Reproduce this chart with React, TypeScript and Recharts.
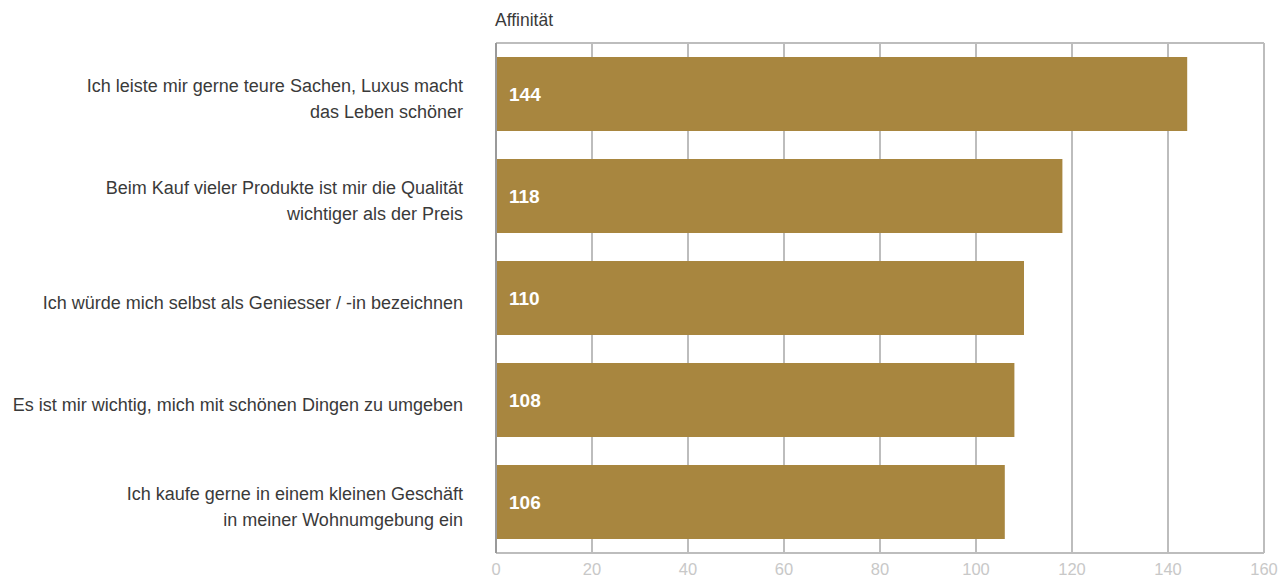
import React from 'react'
import { BarChart, Bar, XAxis, YAxis, CartesianGrid, LabelList } from 'recharts'

// statements (line breaks as in the source chart)
const statements = [
  'Ich leiste mir gerne teure Sachen, Luxus macht\ndas Leben schöner',
  'Beim Kauf vieler Produkte ist mir die Qualität\nwichtiger als der Preis',
  'Ich würde mich selbst als Geniesser / -in bezeichnen',
  'Es ist mir wichtig, mich mit schönen Dingen zu umgeben',
  'Ich kaufe gerne in einem kleinen Geschäft\nin meiner Wohnumgebung ein',
]
const affinity = [144, 118, 110, 108, 106]
const xTicks = [0, 20, 40, 60, 80, 100, 120, 140, 160]
const axisTitle = 'Affinität'

const FONT = '"Liberation Sans", Arial, sans-serif'
const GOLD = '#a8863f'

const chartData = statements.map((s, i) => ({ name: s, value: affinity[i] }))

// multi-line, right-aligned category label
const StatementTick = ({ y, payload }: any) => {
  const lines = String(payload.value).split('\n')
  const lh = 26
  const right = 463
  const startY = y + 5 - ((lines.length - 1) * lh) / 2
  return (
    <text x={right} y={startY} textAnchor="end" fill="#3a3a3a" fontSize={18} fontFamily={FONT}>
      {lines.map((l, i) => (
        <tspan key={i} x={right} y={startY + i * lh} dy="0.35em">
          {l}
        </tspan>
      ))}
    </text>
  )
}

export default function App() {
  return (
    <div style={{ position: 'absolute', left: 0, top: 0, width: 1287, height: 580, background: '#fff' }}>
      <div
        style={{
          position: 'absolute',
          left: 495,
          top: 10,
          fontFamily: FONT,
          fontSize: 17.5,
          color: '#3a3a3a',
        }}
      >
        {axisTitle}
      </div>
      <BarChart
        width={1287}
        height={580}
        data={chartData}
        layout="vertical"
        margin={{ top: 43, right: 23, bottom: 0, left: 0 }}
        barSize={74}
      >
        <CartesianGrid
          stroke="#bdbdbd"
          strokeWidth={2}
          vertical
          horizontal
          horizontalCoordinatesGenerator={({ offset }: any) => [offset.top]}
        />
        <XAxis
          type="number"
          domain={[0, 160]}
          ticks={xTicks}
          height={27}
          tickSize={0}
          tickMargin={10}
          axisLine={{ stroke: '#bdbdbd', strokeWidth: 2 }}
          tickLine={false}
          tick={{ fill: '#c8c8c8', fontSize: 16.5, fontFamily: FONT }}
        />
        <YAxis
          type="category"
          dataKey="name"
          width={496}
          axisLine={{ stroke: '#9a9a9a', strokeWidth: 2 }}
          tickLine={false}
          tick={<StatementTick />}
          interval={0}
        />
        <Bar dataKey="value" fill={GOLD} isAnimationActive={false}>
          <LabelList
            dataKey="value"
            position="insideLeft"
            offset={13}
            fill="#fff"
            fontSize={19}
            fontWeight="bold"
            fontFamily={FONT}
          />
        </Bar>
      </BarChart>
    </div>
  )
}
